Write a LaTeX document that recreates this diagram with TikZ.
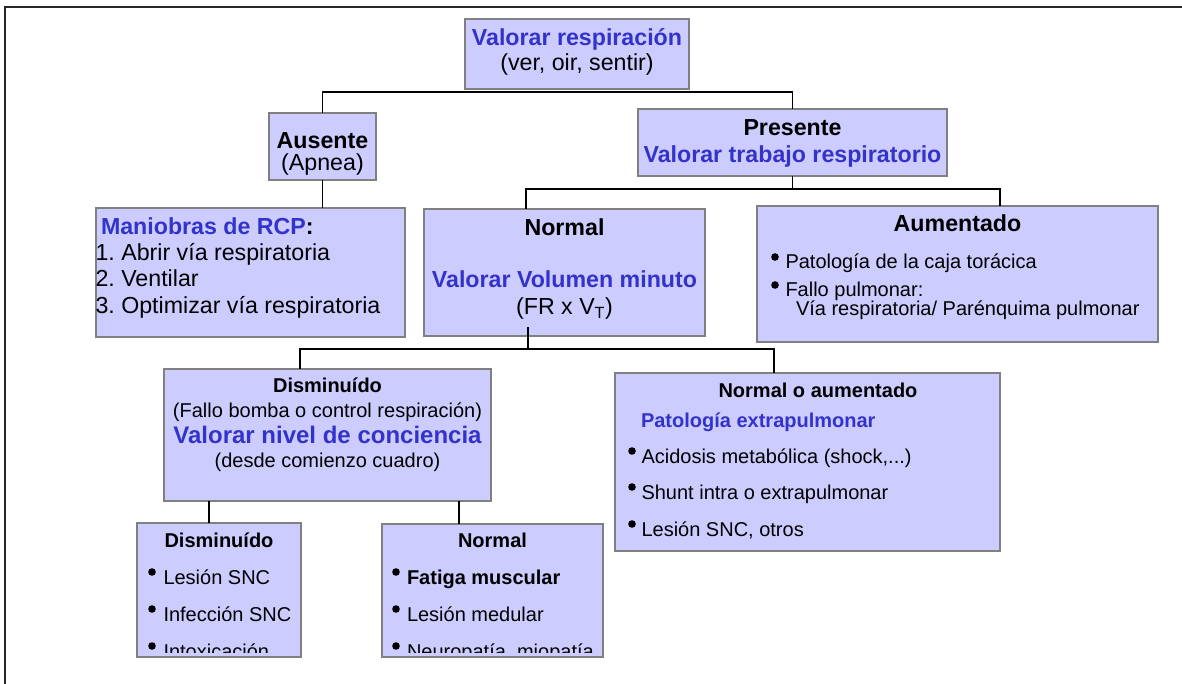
\documentclass[tikz,border=0pt]{standalone}
\usepackage{fontspec}
\setmainfont{Liberation Sans}
\frenchspacing
\definecolor{boxfill}{RGB}{204,204,255}
\definecolor{boxline}{RGB}{128,128,128}
\definecolor{bluetxt}{RGB}{51,51,204}
\newcommand{\fA}{\fontsize{23.2}{25}\selectfont}
\newcommand{\fB}{\fontsize{20}{22}\selectfont}
\newcommand{\fC}{\fontsize{24}{26}\selectfont}
\begin{document}
\begin{tikzpicture}[x=1pt,y=-1pt,
  box/.style={draw=boxline, fill=boxfill, line width=1.8pt, anchor=north west, inner sep=0pt, outer sep=0pt},
  con/.style={draw=black, line width=1.4pt},
  tc/.style={inner sep=0pt, outer sep=0pt, anchor=base},
  tl/.style={inner sep=0pt, outer sep=0pt, anchor=base west},
  big/.style={font=\fA},
  small/.style={font=\fB},
  bluebold/.style={text=bluetxt, font=#1\bfseries},
  blackbold/.style={font=#1\bfseries},
  bullet/.style={fill=black}]
\useasboundingbox (0,0) rectangle (1182,684);
\draw[line width=1.6pt, black!85] (5,684) -- (5,7) -- (1182,7);

% boxes
\node[box, minimum width=224pt, minimum height=70pt]  (root) at (465,19) {};
\node[box, minimum width=107pt, minimum height=67pt]  (aus)  at (269,113) {};
\node[box, minimum width=309pt, minimum height=67pt]  (pres) at (638,109) {};
\node[box, minimum width=309pt, minimum height=129pt] (man)  at (96,208) {};
\node[box, minimum width=281pt, minimum height=127pt] (norm) at (424,209) {};
\node[box, minimum width=401pt, minimum height=136pt] (aum)  at (757,206) {};
\node[box, minimum width=327pt, minimum height=132pt] (dism) at (164,369) {};
\node[box, minimum width=385pt, minimum height=178pt] (noa)  at (615,373) {};
\node[box, minimum width=164pt, minimum height=134pt] (dlow) at (137,523) {};
\node[box, minimum width=221pt, minimum height=133pt] (nlow) at (382,524) {};

% connectors
\draw[con] (aus.north) |- ([yshift=-3pt]root.south) -| (pres.north);
\draw[con] (aus.south) -- ([xshift=226.5pt]man.north west);
\draw[con] (pres.south) -- ([yshift=-13pt]pres.south);
\draw[con] ([xshift=102pt]norm.north west) |- ([yshift=-13pt]pres.south) -| ([xshift=243pt]aum.north west);
\draw[con] ([xshift=104pt,yshift=9pt]norm.south west) -- ([xshift=104pt,yshift=-13pt]norm.south west);
\draw[con] ([xshift=136pt]dism.north west) |- ([xshift=104pt,yshift=-13pt]norm.south west) -| ([xshift=159pt]noa.north west);
\draw[con] ([xshift=45pt]dism.south west) -- ([xshift=72pt]dlow.north west);
\draw[con] ([xshift=295pt]dism.south west) -- ([xshift=77pt]nlow.north west);

% root
\node[tc, bluebold=\fA] (t-root1) at (577,46) {Valorar respiración};
\node[tc, big] (t-root2) at (577,71) {(ver, oir, sentir)};
% ausente
\node[tc, blackbold=\fA] (t-aus1) at (322.5,149) {Ausente};
\node[tc, big] (t-aus2) at (322.5,171) {(Apnea)};
% presente
\node[tc, blackbold=\fA] (t-pres1) at (792.5,136) {Presente};
\node[tc, bluebold=\fA] (t-pres2) at (792.5,163) {Valorar trabajo respiratorio};
% maniobras
\node[tl, big] (t-man1) at (101,235) {\textbf{\textcolor{bluetxt}{Maniobras de RCP}:}};
\node[tl, big] (t-man2) at (95.5,261) {1. Abrir vía respiratoria};
\node[tl, big] (t-man3) at (95.5,287) {2. Ventilar};
\node[tl, big] (t-man4) at (95.5,313) {3. Optimizar vía respiratoria};
% normal
\node[tc, blackbold=\fA] (t-norm1) at (564.5,236) {Normal};
\node[tc, bluebold=\fA] (t-norm2) at (564.5,288) {Valorar Volumen minuto};
\node[tc, big] (t-norm3) at (564.5,315) {(FR x V\textsubscript{T})};
% aumentado
\node[tc, blackbold=\fA] (t-aum1) at (957.5,232) {Aumentado};
\node[tl, small] (t-aum2) at (785.5,269) {Patología de la caja torácica};
\node[tl, small] (t-aum3) at (785.5,297) {Fallo pulmonar:};
\node[tl, small] (t-aum4) at (796,316) {Vía respiratoria/ Parénquima pulmonar};
% disminuido
\node[tc, blackbold=\fB] (t-dism1) at (327.5,392) {Disminuído};
\node[tc, small] (t-dism2) at (327.5,417) {(Fallo bomba o control respiración)};
\node[tc, bluebold=\fC] (t-dism3) at (327.5,443) {Valorar nivel de conciencia};
\node[tc, small] (t-dism4) at (327.5,467) {(desde comienzo cuadro)};
% normal o aumentado
\node[tc, blackbold=\fB] (t-noa1) at (818,397) {Normal o aumentado};
\node[tl, bluebold=\fB] (t-noa2) at (641,427) {Patología extrapulmonar};
\node[tl, small] (t-noa3) at (641.5,463) {Acidosis metabólica (shock,...)};
\node[tl, small] (t-noa4) at (641.5,499) {Shunt intra o extrapulmonar};
\node[tl, small] (t-noa5) at (641.5,536) {Lesión SNC, otros};
% lower boxes
\node[tc, blackbold=\fB] (t-dlow1) at (219,547) {Disminuído};
\node[tl, small] (t-dlow2) at (163.5,584) {Lesión SNC};
\node[tl, small] (t-dlow3) at (163.5,621) {Infección SNC};
\node[tc, blackbold=\fB] (t-nlow1) at (492.5,547) {Normal};
\node[tl, small] (t-nlow2) at (407,584) {\textbf{Fatiga muscular}};
\node[tl, small] (t-nlow3) at (407,621) {Lesión medular};

% bullets
\foreach \n/\d in {t-aum2/10.5, t-aum3/10.5, t-noa3/9.5, t-noa4/9.5, t-noa5/9.5,
                   t-dlow2/11.5, t-dlow3/11.5, t-nlow2/11, t-nlow3/11}
  \fill[bullet] ([xshift=-\d pt, yshift=12pt]\n.base west) circle (3.8pt);

\begin{scope}
  \clip (130,520) rectangle (610,652);
  \node[tl, small] (t-dlow4) at (163.5,658) {Intoxicación};
  \node[tl, small] (t-nlow4) at (407,658) {Neuropatía, miopatía};
  \fill[bullet] ([xshift=-11.5pt, yshift=12pt]t-dlow4.base west) circle (3.8pt);
  \fill[bullet] ([xshift=-11pt, yshift=12pt]t-nlow4.base west) circle (3.8pt);
\end{scope}
\end{tikzpicture}
\end{document}
